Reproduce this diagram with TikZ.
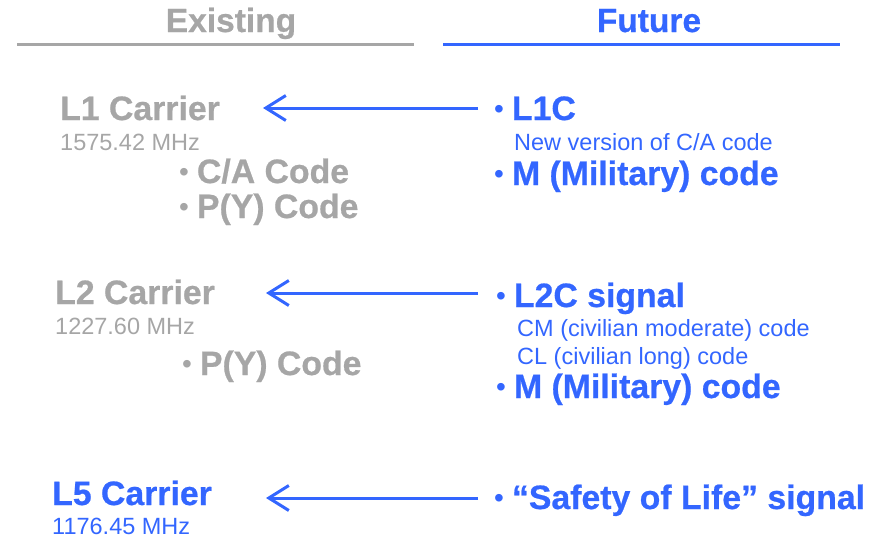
\documentclass[tikz,border=0pt]{standalone}
\usepackage{fontspec}
\setmainfont[BoldFeatures={FakeBold=0.6}]{Liberation Sans}
\usetikzlibrary{arrows.meta}
\definecolor{oldgray}{RGB}{166,166,166}
\definecolor{newblue}{RGB}{51,102,255}
\newcommand{\bul}{\raisebox{2pt}{\fontsize{28}{28}\selectfont\mdseries\textbullet}\hspace{8pt}}

\begin{document}
\begin{tikzpicture}[x=1pt,y=-1pt,
  big/.style={anchor=base west,inner sep=0pt,font=\fontsize{33.8}{33.8}\selectfont\bfseries},
  small/.style={anchor=base west,inner sep=0pt,font=\fontsize{23.5}{23.5}\selectfont},
  head/.style={anchor=base,inner sep=0pt,font=\fontsize{33.5}{33.5}\selectfont\bfseries},
  sig/.style={newblue,line width=3pt,-{Straight Barb[length=20pt,width=25pt,line width=3pt]}}]
\useasboundingbox (0,0) rectangle (879,538);
% headings
\node[head,oldgray] (exist) at (231,32) {Existing};
\node[head,newblue] (fut) at (649,32) {Future};
\draw[oldgray,line width=3pt] (17,44) -- (414,44);
\draw[newblue,line width=3pt] (443,44) -- (840,44);
% existing signals
\node[big,oldgray] (l1car) at (60,120) {L1 Carrier};
\node[small,oldgray] (l1f) at (60,150) {1575.42 MHz};
\node[big,oldgray] (l1ca) at (179,183) {\bul C/A Code};
\node[big,oldgray] (l1py) at (179,218) {\bul P(Y) Code};
\node[big,oldgray] (l2car) at (55,304) {L2 Carrier};
\node[small,oldgray] (l2f) at (55,334) {1227.60 MHz};
\node[big,oldgray] (l2py) at (182,375) {\bul P(Y) Code};
\node[big,newblue] (l5car) at (52,505) {L5 Carrier};
\node[small,newblue] (l5f) at (52,534) {1176.45 MHz};
% future signals
\node[big,newblue] (l1c) at (494,120) {\bul L1C};
\node[small,newblue] (l1cnote) at (514,150) {New version of C/A code};
\node[big,newblue] (l1m) at (494,185) {\bul M (Military) code};
\node[big,newblue] (l2c) at (496,307) {\bul L2C signal};
\node[small,newblue] (l2cm) at (517,336) {CM (civilian moderate) code};
\node[small,newblue] (l2cl) at (517,364) {CL (civilian long) code};
\node[big,newblue] (l2m) at (496,398) {\bul M (Military) code};
\node[big,newblue] (l5sol) at (494,509) {\bul “Safety of Life” signal};
% arrows
\coordinate (t1) at (263,108);
\coordinate (t2) at (266,293);
\coordinate (t3) at (266,498);
\draw[sig] ([xshift=-16pt]l1c.west |- t1) -- (t1);
\draw[sig] ([xshift=-18pt]l2c.west |- t2) -- (t2);
\draw[sig] ([xshift=-16pt]l5sol.west |- t3) -- (t3);
\end{tikzpicture}
\end{document}
